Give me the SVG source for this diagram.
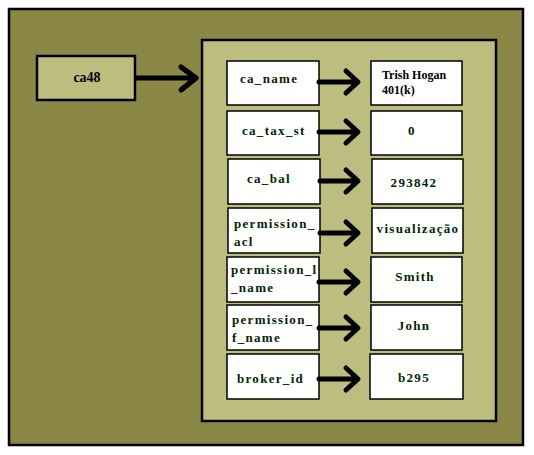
<svg xmlns="http://www.w3.org/2000/svg" width="534" height="455" viewBox="0 0 534 455">
<style>
.bg{fill:#8b8847;stroke:#000;stroke-width:2.5}
.panel{fill:#bdbd80;stroke:#000;stroke-width:2.5}
.box{fill:#fff;stroke:#000;stroke-width:1.5}
.t{font-family:"Liberation Serif","Times New Roman",serif;font-weight:bold;font-size:13px;fill:#032503;letter-spacing:1.3px}
.tm{text-anchor:middle}
.tk{font-family:"Liberation Serif","Times New Roman",serif;font-weight:bold;font-size:12px;fill:#000}
.arr{fill:none;stroke:#000;stroke-width:5;stroke-linecap:round;stroke-linejoin:round}
</style>
<rect class="bg" x="9" y="9" width="514" height="436"/>
<g id="ca48">
<rect class="panel" x="37" y="56" width="98" height="44"/>
<text class="tk" x="87" y="82" text-anchor="middle" style="font-size:14px">ca48</text>
</g>
<g id="record">
<rect class="panel" x="202" y="40" width="294" height="381"/>
</g>
<g id="ca_name"><rect class="box" x="227" y="61" width="92" height="44"/><text class="t" x="240" y="83">ca_name</text></g>
<g id="ca_name_val"><rect class="box" x="371" y="61" width="91" height="44"/><text class="tk" x="382" y="79">Trish Hogan</text><text class="tk" x="382" y="94">401(k)</text></g>
<g id="ca_tax_st"><rect class="box" x="227" y="111" width="92" height="44"/><text class="t" x="242" y="135">ca_tax_st</text></g>
<g id="ca_tax_st_val"><rect class="box" x="371" y="111" width="91" height="44"/><text class="t tm" x="412" y="135">0</text></g>
<g id="ca_bal"><rect class="box" x="228" y="159" width="92" height="45"/><text class="t" x="247" y="183">ca_bal</text></g>
<g id="ca_bal_val"><rect class="box" x="372" y="159" width="91" height="45"/><text class="t tm" x="414" y="187">293842</text></g>
<g id="permission_acl"><rect class="box" x="228" y="208" width="92" height="45"/><text class="t" x="234" y="228">permission_</text><text class="t" x="234" y="246">acl</text></g>
<g id="permission_acl_val"><rect class="box" x="372" y="208" width="91" height="45"/><text class="t tm" x="418" y="233">visualização</text></g>
<g id="permission_l_name"><rect class="box" x="227" y="257" width="92" height="45"/><text class="t" x="231" y="274">permission_l</text><text class="t" x="231" y="292">_name</text></g>
<g id="permission_l_name_val"><rect class="box" x="371" y="257" width="91" height="45"/><text class="t tm" x="415" y="281">Smith</text></g>
<g id="permission_f_name"><rect class="box" x="227" y="305" width="92" height="45"/><text class="t" x="232" y="324">permission_</text><text class="t" x="232" y="342">f_name</text></g>
<g id="permission_f_name_val"><rect class="box" x="371" y="305" width="91" height="45"/><text class="t tm" x="414" y="330">John</text></g>
<g id="broker_id"><rect class="box" x="227" y="354" width="92" height="45"/><text class="t" x="237" y="383">broker_id</text></g>
<g id="broker_id_val"><rect class="box" x="370" y="354" width="93" height="45"/><text class="t tm" x="414" y="382">b295</text></g>
<g id="connectors">
<path class="arr" d="M135 78H195M181 67L196 78L181 90" style="stroke-linecap:butt"/>
<path class="arr" d="M181 67L196 78L181 90"/>
<path class="arr" d="M319 82H357M346 71L358 82L346 93"/>
<path class="arr" d="M319 132H357M346 121L358 132L346 143"/>
<path class="arr" d="M320 181H357M346 170L358 181L346 192"/>
<path class="arr" d="M320 233H357M346 222L358 233L346 244"/>
<path class="arr" d="M319 282H357M346 271L358 282L346 293"/>
<path class="arr" d="M319 328H357M346 317L358 328L346 339"/>
<path class="arr" d="M319 379H357M346 368L358 379L346 390"/>
</g>
</svg>
